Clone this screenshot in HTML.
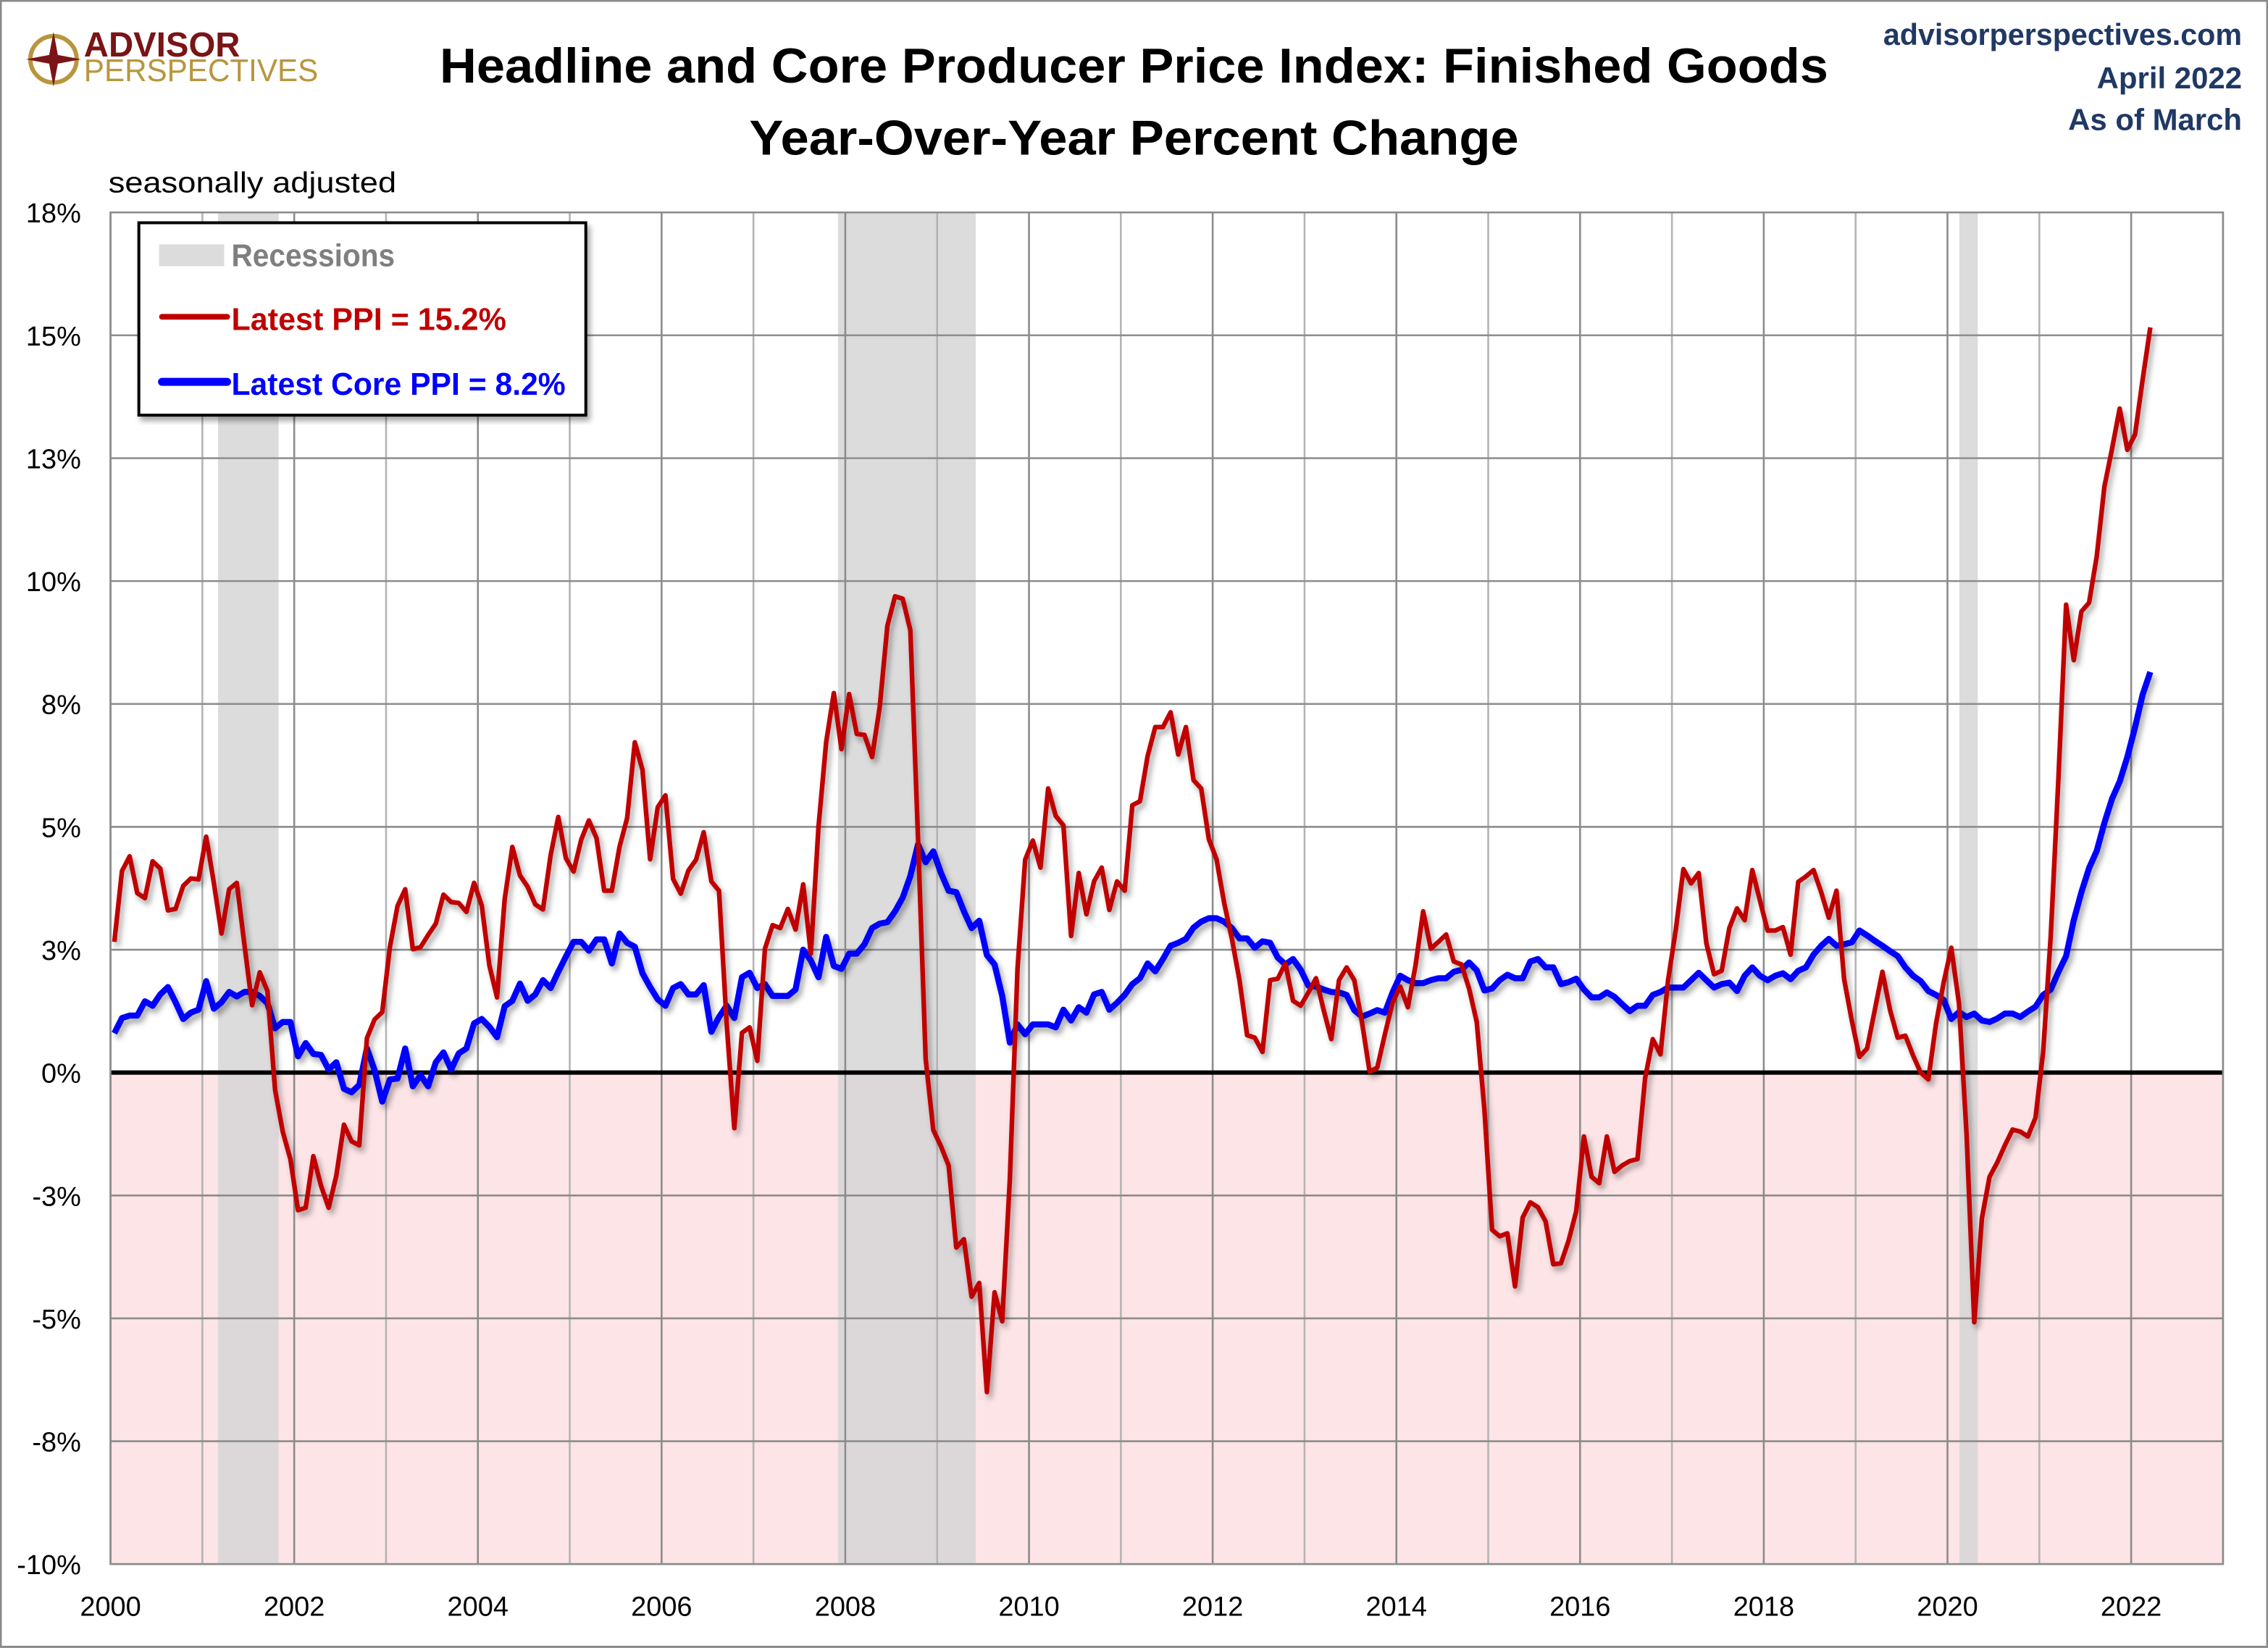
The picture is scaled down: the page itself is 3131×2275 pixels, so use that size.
<!DOCTYPE html>
<html><head><meta charset="utf-8"><style>
html,body{margin:0;padding:0;background:#fff;}
svg{display:block;}
text{font-family:"Liberation Sans",sans-serif;}
</style></head><body>
<svg id="chart" width="3131" height="2275" viewBox="0 0 1568 1139.3" preserveAspectRatio="none" xmlns="http://www.w3.org/2000/svg">
<defs>
<filter id="sh" x="-5%" y="-5%" width="110%" height="110%"><feDropShadow dx="2" dy="3" stdDeviation="2" flood-color="#000" flood-opacity="0.35"/></filter>
</defs>
<rect x="0.5" y="0.5" width="1567" height="1138" fill="#fff" stroke="#8a8a8a" stroke-width="1.5"/>
<g>
<circle cx="37" cy="41" r="16" fill="none" stroke="#b8963e" stroke-width="3"/>
<polygon points="37,22 40,38 56,41 40,44 37,60 34,44 18,41 34,38" fill="#7a1416"/>
<text x="58" y="39" font-size="24" font-weight="bold" fill="#7a1416" textLength="108" lengthAdjust="spacingAndGlyphs">ADVISOR</text>
<text x="58" y="56" font-size="22" fill="#b8963e" textLength="162" lengthAdjust="spacingAndGlyphs">PERSPECTIVES</text>
</g>
<text x="784" y="57" text-anchor="middle" font-size="34" font-weight="bold" textLength="960" lengthAdjust="spacingAndGlyphs">Headline and Core Producer Price Index: Finished Goods</text>
<text x="784" y="107" text-anchor="middle" font-size="34" font-weight="bold" textLength="532" lengthAdjust="spacingAndGlyphs">Year-Over-Year Percent Change</text>
<text x="1550" y="31" text-anchor="end" font-size="21" font-weight="bold" fill="#203864" textLength="248" lengthAdjust="spacingAndGlyphs">advisorperspectives.com</text>
<text x="1550" y="61" text-anchor="end" font-size="21" font-weight="bold" fill="#203864">April 2022</text>
<text x="1550" y="90" text-anchor="end" font-size="21" font-weight="bold" fill="#203864">As of March</text>
<text x="75" y="133" font-size="20" textLength="199" lengthAdjust="spacingAndGlyphs">seasonally adjusted</text>
<g id="plot"></g>
<g id="legend" transform="translate(0,0)">
<rect x="96" y="154" width="309" height="133" fill="#fff" stroke="#000" stroke-width="2" filter="url(#sh)"/>
<rect x="110" y="169" width="45" height="15" fill="#dcdcdc"/>
<text x="160" y="184" font-size="22" font-weight="bold" fill="#7f7f7f" textLength="113" lengthAdjust="spacingAndGlyphs">Recessions</text>
<line x1="112" y1="219" x2="157" y2="219" stroke="#c00000" stroke-width="4" stroke-linecap="round"/>
<text x="160" y="228" font-size="22" font-weight="bold" fill="#c00000" textLength="190" lengthAdjust="spacingAndGlyphs">Latest PPI = 15.2%</text>
<line x1="112" y1="264" x2="157" y2="264" stroke="#0000ff" stroke-width="5.5" stroke-linecap="round"/>
<text x="160" y="273" font-size="22" font-weight="bold" fill="#0000ff" textLength="231" lengthAdjust="spacingAndGlyphs">Latest Core PPI = 8.2%</text>
</g>
</svg>
<script>
const yTicks = [-10,-7.5,-5,-2.5,0,2.5,5,7.5,10,12.5,15,17.5];
const yTickLabels = ["-10%","-8%","-5%","-3%","0%","3%","5%","8%","10%","13%","15%","18%"];
const xYears = [2000,2002,2004,2006,2008,2010,2012,2014,2016,2018,2020,2022];
const recessionStarts = [2001.17, 2007.92, 2020.13];
const recessionEnds = [2001.83, 2009.42, 2020.33];
const ppi = [
2.66,4.1,4.4,3.65,3.55,4.3,4.15,3.3,3.33,3.8,3.95,3.93,
4.8,3.86,2.83,3.73,3.86,2.6,1.37,2.04,1.66,-0.35,-1.2,-1.76,
-2.8,-2.75,-1.7,-2.3,-2.75,-2.1,-1.06,-1.4,-1.48,0.7,1.08,1.23,
2.55,3.39,3.73,2.51,2.55,2.8,3.03,3.62,3.47,3.45,3.27,3.86,
3.4,2.18,1.53,3.53,4.59,4.01,3.78,3.42,3.32,4.42,5.2,4.36,
4.09,4.74,5.13,4.77,3.7,3.7,4.59,5.18,6.72,6.16,4.34,5.4,
5.64,3.94,3.64,4.11,4.33,4.89,3.89,3.7,1.0,-1.13,0.81,0.92,
0.24,2.52,3.0,2.94,3.33,2.91,3.83,2.42,5.0,6.72,7.72,6.58,
7.7,6.89,6.87,6.42,7.44,9.09,9.69,9.64,9.0,4.78,0.28,-1.17,
-1.5,-1.89,-3.56,-3.39,-4.56,-4.28,-6.5,-4.47,-5.06,-2.17,2.11,4.33,
4.72,4.17,5.78,5.22,5.03,2.78,4.06,3.22,3.89,4.17,3.31,3.89,
3.7,5.44,5.52,6.44,7.03,7.03,7.33,6.47,7.03,5.95,5.78,4.75,
4.34,3.45,2.73,1.88,0.76,0.71,0.42,1.88,1.91,2.22,1.46,1.36,
1.63,1.92,1.27,0.68,1.88,2.14,1.88,1.03,0.02,0.1,0.78,1.42,
1.75,1.33,2.18,3.28,2.52,2.66,2.81,2.26,2.2,1.71,1.03,-0.75,
-3.2,-3.33,-3.27,-4.35,-2.95,-2.64,-2.74,-3.03,-3.9,-3.88,-3.42,-2.82,
-1.3,-2.12,-2.25,-1.3,-2.02,-1.89,-1.8,-1.76,-0.11,0.68,0.37,1.88,
2.9,4.14,3.85,4.06,2.63,2.0,2.07,2.94,3.34,3.1,4.12,3.5,
2.89,2.89,2.96,2.4,3.88,3.99,4.12,3.67,3.15,3.7,1.9,1.06,
0.32,0.49,1.27,2.05,1.27,0.71,0.75,0.35,0,-0.14,0.99,1.83,
2.54,1.41,-1.27,-5.08,-2.96,-2.12,-1.83,-1.48,-1.16,-1.2,-1.3,-0.92,
0.42,2.8,6.0,9.52,8.39,9.38,9.56,10.5,11.92,12.69,13.51,12.67,
12.98,14.1,15.16];
const corePpi = [
0.8,1.11,1.16,1.16,1.45,1.36,1.59,1.74,1.43,1.09,1.22,1.28,
1.86,1.3,1.43,1.64,1.55,1.64,1.64,1.56,1.41,0.9,1.03,1.03,
0.33,0.6,0.38,0.36,0.06,0.21,-0.33,-0.4,-0.25,0.49,0.05,-0.59,
-0.14,-0.12,0.49,-0.28,-0.05,-0.28,0.21,0.41,0.06,0.39,0.49,1.0,
1.09,0.93,0.72,1.35,1.46,1.81,1.46,1.59,1.88,1.72,2.05,2.36,
2.66,2.66,2.48,2.71,2.71,2.22,2.83,2.64,2.56,2.02,1.74,1.49,
1.36,1.72,1.8,1.59,1.59,1.78,0.83,1.13,1.36,1.11,1.94,2.03,
1.72,1.8,1.56,1.56,1.56,1.69,2.5,2.28,1.94,2.76,2.17,2.11,
2.42,2.42,2.61,2.94,3.03,3.06,3.28,3.56,4.0,4.64,4.28,4.5,
4.06,3.7,3.67,3.28,2.94,3.09,2.39,2.2,1.56,0.61,0.98,0.78,
0.98,0.98,0.98,0.92,1.28,1.06,1.33,1.22,1.59,1.64,1.28,1.42,
1.58,1.8,1.92,2.22,2.06,2.31,2.58,2.64,2.72,2.95,3.07,3.14,
3.14,3.07,2.94,2.73,2.73,2.54,2.67,2.64,2.34,2.2,2.31,2.09,
1.77,1.75,1.69,1.64,1.63,1.58,1.27,1.14,1.2,1.27,1.22,1.63,
1.97,1.88,1.82,1.82,1.88,1.92,1.92,2.05,2.09,2.24,2.08,1.67,
1.71,1.88,1.99,1.92,1.92,2.26,2.31,2.14,2.14,1.8,1.84,1.91,
1.69,1.53,1.53,1.63,1.54,1.39,1.25,1.36,1.36,1.58,1.64,1.73,
1.73,1.73,1.88,2.03,1.88,1.73,1.8,1.83,1.66,1.97,2.14,1.97,
1.88,1.97,2.02,1.9,2.07,2.14,2.4,2.58,2.72,2.58,2.61,2.65,
2.89,2.79,2.68,2.58,2.47,2.37,2.14,1.97,1.86,1.66,1.58,1.48,
1.09,1.23,1.13,1.2,1.06,1.03,1.1,1.2,1.2,1.13,1.24,1.34,
1.58,1.69,2.05,2.37,3.1,3.67,4.16,4.51,5.08,5.57,5.92,6.42,
7.02,7.69,8.15];
const startYear = 2000;

const NS = "http://www.w3.org/2000/svg";
const X0 = 76.4, PX_PER_YEAR = 63.5;
const Y0 = 741.5, PX_PER_PCT = 33.98;
const xScale = t => X0 + (t - startYear) * PX_PER_YEAR;
const yScale = v => Y0 - v * PX_PER_PCT;
const xMin = 2000, xMax = 2023, yMin = -10, yMax = 17.5;
const plot = document.getElementById('plot');
function mk(tag, attrs, parent) {
  const e = document.createElementNS(NS, tag);
  for (const k in attrs) e.setAttribute(k, attrs[k]);
  (parent || plot).appendChild(e);
  return e;
}
const L = xScale(xMin), R = xScale(xMax), T = yScale(yMax), B = yScale(yMin);
// negative zone
const neg = mk('rect', {x: L, y: yScale(0), width: R - L, height: B - yScale(0), fill: '#fde4e6'});


// recessions
for (let i = 0; i < recessionStarts.length; i++) {
  const r = mk('rect', {x: xScale(recessionStarts[i]), y: T, width: xScale(recessionEnds[i]) - xScale(recessionStarts[i]), height: B - T, fill: '#d6d6d6', 'fill-opacity': 0.85});
  
  
}
// vertical grid every year
for (let yr = xMin; yr <= xMax; yr++) {
  const g = mk('line', {x1: xScale(yr), x2: xScale(yr), y1: T, y2: B, stroke: yr % 2 === 0 ? '#8c8c8c' : '#b4b4b4', 'stroke-width': 1.3});
  
  
}
// horizontal grid + labels
yTicks.forEach((v, i) => {
  const g = mk('line', {x1: L, x2: R, y1: yScale(v), y2: yScale(v), stroke: '#8c8c8c', 'stroke-width': 1.3});
  
  
  const t = mk('text', {x: 56, y: yScale(v) + 7, 'text-anchor': 'end', 'font-size': 19});
  t.textContent = yTickLabels[i];
  
  
});
xYears.forEach(yr => {
  const t = mk('text', {x: xScale(yr), y: 1117, 'text-anchor': 'middle', 'font-size': 19});
  t.textContent = String(yr);
  
  
});
// zero line
const z = mk('line', {x1: L, x2: R, y1: yScale(0), y2: yScale(0), stroke: '#000', 'stroke-width': 3});


function series(vals, color, w, name) {
  const pts = vals.map((v, i) => xScale(startYear + i / 12 + 1 / 24).toFixed(2) + ',' + yScale(v).toFixed(2)).join(' ');
  const p = mk('polyline', {points: pts, fill: 'none', stroke: color, 'stroke-width': w, 'stroke-linejoin': 'round', filter: 'url(#sh)'});
  
  
}
series(corePpi, '#0000ff', 4.2, 'core-ppi-line');
series(ppi, '#c00000', 3.2, 'headline-ppi-line');
// plot frame
const fr = mk('rect', {x: L, y: T, width: R - L, height: B - T, fill: 'none', stroke: '#8c8c8c', 'stroke-width': 1.3});


</script>
</body></html>
